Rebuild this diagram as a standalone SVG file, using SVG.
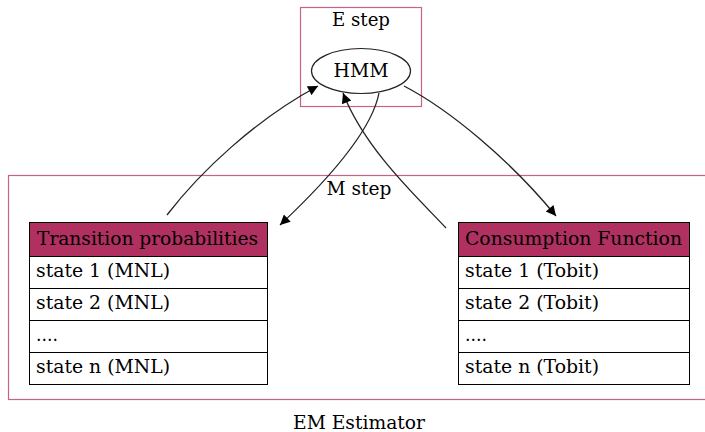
<svg xmlns="http://www.w3.org/2000/svg" width="705" height="432" viewBox="0 0 705 432">
<style>
text{font-family:"DejaVu Serif","Liberation Serif",serif;font-size:18.5px;fill:#000}
.c{text-anchor:middle}
.cl{fill:none;stroke:#c8628a;stroke-width:1.2}
.cell{fill:#fff;stroke:#000;stroke-width:1}
.hd{fill:#b03060;stroke:#000;stroke-width:1}
.e{fill:none;stroke:#222;stroke-width:1.3}
</style>
<defs>
<marker id="ah" viewBox="0 0 10 10" refX="10" refY="5" markerWidth="12" markerHeight="10" markerUnits="userSpaceOnUse" orient="auto">
<path d="M0,0 L10,5 L0,10 z" fill="#000"/>
</marker>
</defs>
<rect width="705" height="432" fill="#fff"/>
<g id="cluster_em">
<rect class="cl" x="8.5" y="175.5" width="710" height="224"/>
<text class="c" x="359" y="429" textLength="132" lengthAdjust="spacingAndGlyphs">EM Estimator</text>
</g>
<g id="cluster_e">
<rect class="cl" x="300.5" y="7.5" width="121" height="99"/>
<text class="c" x="361" y="26" textLength="58" lengthAdjust="spacingAndGlyphs">E step</text>
</g>
<g id="cluster_m_label">
<text class="c" x="359" y="195" textLength="65" lengthAdjust="spacingAndGlyphs">M step</text>
</g>
<g id="hmm">
<ellipse cx="361" cy="71" rx="49.5" ry="22.5" fill="#fff" stroke="#222" stroke-width="1.2"/>
<text class="c" x="361" y="77" textLength="55" lengthAdjust="spacingAndGlyphs">HMM</text>
</g>
<g id="transition">
<rect class="hd" x="29.5" y="222.5" width="238" height="34"/>
<rect class="cell" x="29.5" y="256.5" width="238" height="32"/>
<rect class="cell" x="29.5" y="288.5" width="238" height="32"/>
<rect class="cell" x="29.5" y="320.5" width="238" height="32"/>
<rect class="cell" x="29.5" y="352.5" width="238" height="32"/>
<text x="37" y="245" textLength="221" lengthAdjust="spacingAndGlyphs">Transition probabilities</text>
<text x="36" y="277" textLength="134" lengthAdjust="spacingAndGlyphs">state 1 (MNL)</text>
<text x="36" y="309" textLength="134" lengthAdjust="spacingAndGlyphs">state 2 (MNL)</text>
<text x="36" y="341" textLength="22" lengthAdjust="spacingAndGlyphs">....</text>
<text x="36" y="373" textLength="134" lengthAdjust="spacingAndGlyphs">state n (MNL)</text>
</g>
<g id="consumption">
<rect class="hd" x="458.5" y="222.5" width="231" height="34"/>
<rect class="cell" x="458.5" y="256.5" width="231" height="32"/>
<rect class="cell" x="458.5" y="288.5" width="231" height="32"/>
<rect class="cell" x="458.5" y="320.5" width="231" height="32"/>
<rect class="cell" x="458.5" y="352.5" width="231" height="32"/>
<text x="465" y="245" textLength="217" lengthAdjust="spacingAndGlyphs">Consumption Function</text>
<text x="465" y="277" textLength="134" lengthAdjust="spacingAndGlyphs">state 1 (Tobit)</text>
<text x="465" y="309" textLength="134" lengthAdjust="spacingAndGlyphs">state 2 (Tobit)</text>
<text x="465" y="341" textLength="22" lengthAdjust="spacingAndGlyphs">....</text>
<text x="465" y="373" textLength="134" lengthAdjust="spacingAndGlyphs">state n (Tobit)</text>
</g>
<g id="edges">
<path class="e" d="M167,215 C200,172 255,120 318,86" marker-end="url(#ah)"/>
<path class="e" d="M379,93 C372,130 330,178 280,225" marker-end="url(#ah)"/>
<path class="e" d="M446,228 C420,200 365,150 343,93" marker-end="url(#ah)"/>
<path class="e" d="M404,86 C450,110 510,160 556,216" marker-end="url(#ah)"/>
</g>
</svg>
